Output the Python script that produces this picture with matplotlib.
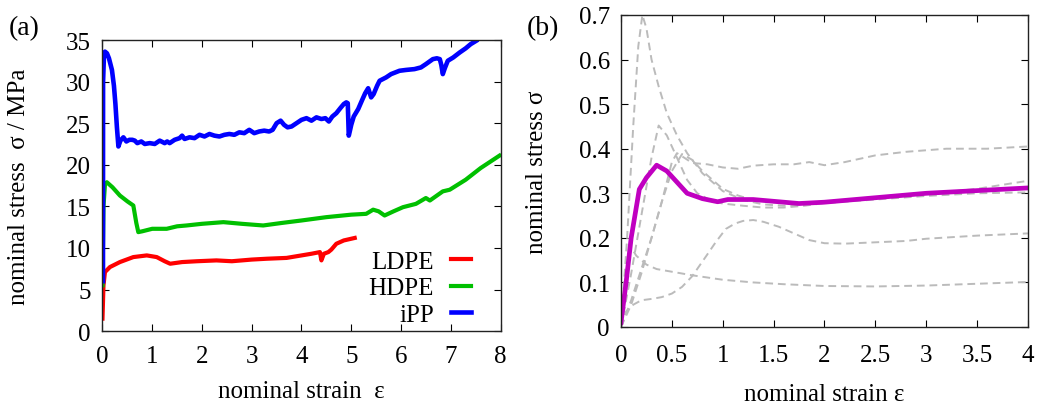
import matplotlib
matplotlib.use("Agg")
import matplotlib.pyplot as plt
import matplotlib.ticker as ticker

plt.rcParams["font.family"] = ["Liberation Serif", "DejaVu Serif"]

# (a) tensile curves of three polymers
ldpe_x = [0.0, 0.02, 0.05, 0.15, 0.35, 0.62, 0.89, 1.09, 1.25, 1.36, 1.6, 1.9, 2.29, 2.6,
          3.0, 3.3, 3.7, 4.0, 4.2, 4.37, 4.4, 4.45, 4.54, 4.6, 4.7, 4.85, 5.07]
ldpe_y = [1.5, 5.5, 7.1, 7.7, 8.3, 8.9, 9.1, 8.9, 8.4, 8.1, 8.3, 8.4, 8.5, 8.4,
          8.6, 8.7, 8.8, 9.1, 9.3, 9.5, 8.5, 9.3, 9.5, 9.8, 10.5, 10.9, 11.2]

hdpe_x = [0.0, 0.02, 0.05, 0.087, 0.2, 0.35, 0.5, 0.62, 0.68, 0.72, 0.8, 1.0, 1.29, 1.5,
          1.69, 2.0, 2.43, 2.8, 3.23, 3.6, 4.0, 4.5, 5.0, 5.3, 5.44, 5.55, 5.67, 5.85,
          6.04, 6.3, 6.5, 6.58, 6.84, 6.98, 7.3, 7.6, 7.98]
hdpe_y = [5.5, 15.0, 17.6, 17.9, 17.3, 16.3, 15.6, 15.1, 13.0, 11.9, 12.0, 12.3, 12.3, 12.6,
          12.7, 12.9, 13.1, 12.9, 12.7, 13.0, 13.3, 13.7, 14.0, 14.1, 14.6, 14.4, 13.9, 14.4,
          14.9, 15.3, 16.0, 15.7, 16.8, 17.0, 18.2, 19.6, 21.1]

ipp_x = [0.01, 0.012, 0.03, 0.05, 0.09, 0.13, 0.19, 0.23, 0.26, 0.29, 0.32, 0.36,
         0.42, 0.48, 0.54, 0.60, 0.65, 0.70, 0.78, 0.85, 0.95, 1.05, 1.15, 1.25,
         1.30, 1.35, 1.45, 1.55, 1.60, 1.65, 1.75, 1.85, 1.95, 2.05, 2.15, 2.25, 2.35,
         2.45, 2.55, 2.65, 2.75, 2.85, 2.95, 3.05, 3.15, 3.25, 3.35, 3.42, 3.50, 3.58,
         3.65, 3.72, 3.80, 3.90, 4.00, 4.10, 4.20, 4.30, 4.40, 4.48, 4.55, 4.62, 4.70,
         4.78, 4.85, 4.90, 4.93, 4.95, 4.97, 5.00, 5.05, 5.14, 5.22, 5.28, 5.34, 5.40,
         5.45, 5.52, 5.57, 5.70, 5.80, 5.97, 6.10, 6.27, 6.40, 6.50, 6.64, 6.72, 6.78,
         6.81, 6.84, 6.88, 6.94, 7.05, 7.18, 7.30, 7.40, 7.51]
ipp_y = [6.0, 30.0, 33.2, 33.6, 33.4, 32.8, 31.4, 29.5, 27.3, 24.5, 22.2, 22.9,
         23.3, 22.8, 23.0, 23.0, 22.9, 22.6, 22.8, 22.5, 22.6, 22.5, 22.9, 22.6,
         22.8, 22.6, 23.0, 23.2, 23.5, 23.1, 23.3, 23.2, 23.6, 23.4, 23.7, 23.5, 23.4,
         23.6, 23.7, 23.6, 23.9, 23.8, 24.2, 23.8, 24.0, 24.1, 24.0, 24.2, 25.0, 25.3,
         24.8, 24.5, 24.6, 25.0, 25.4, 25.6, 25.3, 25.7, 25.5, 25.6, 25.2, 25.8, 26.2,
         26.8, 27.3, 27.5, 27.4, 23.5, 24.0, 24.8, 25.8, 26.7, 27.8, 28.6, 29.2, 28.1,
         28.5, 29.5, 30.1, 30.5, 30.9, 31.3, 31.4, 31.5, 31.7, 32.1, 32.7, 32.8, 32.7,
         32.0, 30.9, 31.6, 32.5, 32.9, 33.5, 34.0, 34.5, 34.9]

# (b) stress-strain curves: grey samples and the average
grey_curves = [
    ([0, 0.06, 0.12, 0.17, 0.21, 0.25, 0.3, 0.37, 0.45, 0.55, 0.65, 0.8, 1.0, 1.2, 1.4,
      1.6, 1.8, 2.0, 2.5, 3.0, 3.5, 4.0],
     [0, 0.2, 0.45, 0.63, 0.70, 0.67, 0.60, 0.54, 0.48, 0.43, 0.39, 0.345, 0.305, 0.285,
      0.275, 0.272, 0.274, 0.28, 0.29, 0.298, 0.31, 0.328]),
    ([0, 0.1, 0.2, 0.3, 0.37, 0.45, 0.55, 0.65, 0.75, 0.9, 1.0, 1.2, 1.4, 1.6, 1.8, 2.0,
      2.5, 3.0, 3.5, 4.0],
     [0, 0.12, 0.25, 0.38, 0.452, 0.43, 0.38, 0.33, 0.30, 0.282, 0.277, 0.272, 0.268,
      0.268, 0.272, 0.278, 0.286, 0.294, 0.30, 0.302]),
    ([0, 0.1, 0.2, 0.3, 0.4, 0.5, 0.55, 0.62, 0.7, 0.85, 1.0, 1.15, 1.3, 1.5, 1.7, 1.85,
      2.0, 2.2, 2.5, 2.8, 3.2, 3.6, 4.0],
     [0, 0.05, 0.12, 0.2, 0.28, 0.37, 0.39, 0.38, 0.368, 0.365, 0.358, 0.355, 0.362,
      0.365, 0.365, 0.37, 0.363, 0.37, 0.385, 0.393, 0.40, 0.40, 0.405]),
    ([0, 0.1, 0.2, 0.3, 0.4, 0.5, 0.6, 0.7, 0.8, 0.9, 1.0, 1.15, 1.3, 1.5, 1.7, 2.0,
      2.5, 3.0, 3.5, 4.0],
     [0, 0.06, 0.13, 0.2, 0.28, 0.35, 0.388, 0.375, 0.35, 0.33, 0.31, 0.295, 0.285,
      0.28, 0.277, 0.28, 0.29, 0.30, 0.306, 0.31]),
    ([0, 0.04, 0.09, 0.15, 0.25, 0.35, 0.5, 0.7, 1.0, 1.3, 1.6, 2.0, 2.5, 3.0, 3.5, 4.0],
     [0, 0.1, 0.182, 0.16, 0.14, 0.13, 0.124, 0.116, 0.106, 0.1, 0.096, 0.092, 0.091,
      0.093, 0.097, 0.101]),
    ([0, 0.05, 0.12, 0.2, 0.3, 0.4, 0.5, 0.6, 0.7, 0.84, 0.93, 1.03, 1.12, 1.2, 1.3, 1.4,
      1.55, 1.7, 1.85, 2.0, 2.2, 2.5, 2.8, 3.0, 3.5, 4.0],
     [0, 0.035, 0.05, 0.06, 0.063, 0.067, 0.075, 0.09, 0.114, 0.16, 0.19, 0.22, 0.232,
      0.238, 0.24, 0.236, 0.225, 0.21, 0.195, 0.188, 0.187, 0.19, 0.193, 0.198, 0.205,
      0.21]),
]
mean_x = [0, 0.05, 0.1, 0.18, 0.25, 0.35, 0.45, 0.55, 0.65, 0.8, 0.95, 1.05, 1.3, 1.5,
          1.75, 2.0, 2.5, 3.0, 3.5, 4.0]
mean_y = [0.01, 0.1, 0.2, 0.309, 0.335, 0.363, 0.35, 0.325, 0.30, 0.288, 0.281, 0.286,
          0.286, 0.282, 0.277, 0.28, 0.29, 0.30, 0.306, 0.312]

FS = 18


def style_axes(ax, xpad, ypad):
    ax.tick_params(direction="in", top=True, right=True, length=5, width=0.8,
                   labelsize=FS)
    ax.tick_params(axis="x", pad=xpad)
    ax.tick_params(axis="y", pad=ypad)
    for s in ax.spines.values():
        s.set_linewidth(1.0)
        s.set_color("#222222")


fig = plt.figure(figsize=(10.46, 4.1), dpi=100)
ax1 = fig.add_axes([0.0975, 0.190, 0.381, 0.710])
ax2 = fig.add_axes([0.5937, 0.200, 0.389, 0.761])

ax1.plot(ldpe_x, ldpe_y, color="#ff0000", lw=3, label="LDPE")
ax1.plot(hdpe_x, hdpe_y, color="#00c000", lw=3, label="HDPE")
ax1.plot(ipp_x, ipp_y, color="#0000ff", lw=3.3, label="iPP")
ax1.set_xlim(-0.01, 8)
ax1.set_ylim(0, 35)
ax1.xaxis.set_major_locator(ticker.MultipleLocator(1))
ax1.yaxis.set_major_locator(ticker.MultipleLocator(5))
style_axes(ax1, 10, 8)
ax1.set_xlabel("nominal strain  ε", fontsize=FS)
ax1.set_ylabel("nominal stress  σ / MPa", fontsize=FS)
ax1.xaxis.set_label_coords(0.5, -0.168)
ax1.yaxis.set_label_coords(-0.18, 0.5)
ax1.legend(loc="lower right", bbox_to_anchor=(0.927, 0.018), frameon=False,
           markerfirst=False, fontsize=FS, handlelength=0.8, handletextpad=0.7,
           labelspacing=0.16, borderpad=0, borderaxespad=0)

for gx, gy in grey_curves:
    ax2.plot(gx, gy, color="#bbbbbb", lw=1.4, dashes=(4, 2.5))
ax2.plot(mean_x, mean_y, color="#c000c0", lw=3.4)
ax2.set_xlim(0, 4)
ax2.set_ylim(0, 0.7)
ax2.xaxis.set_major_locator(ticker.MultipleLocator(0.5))
ax2.yaxis.set_major_locator(ticker.MultipleLocator(0.1))
ax2.xaxis.set_major_formatter(ticker.FormatStrFormatter("%g"))
ax2.yaxis.set_major_formatter(ticker.FormatStrFormatter("%g"))
style_axes(ax2, 12, 8)
ax2.set_xlabel("nominal strain ε", fontsize=FS)
ax2.set_ylabel("nominal stress σ", fontsize=FS)
ax2.xaxis.set_label_coords(0.5, -0.178)
ax2.yaxis.set_label_coords(-0.18, 0.5)

fig.text(0.008, 0.915, "(a)", fontsize=FS + 2)
fig.text(0.504, 0.915, "(b)", fontsize=FS + 2)

fig.savefig("out.png", dpi=100)
